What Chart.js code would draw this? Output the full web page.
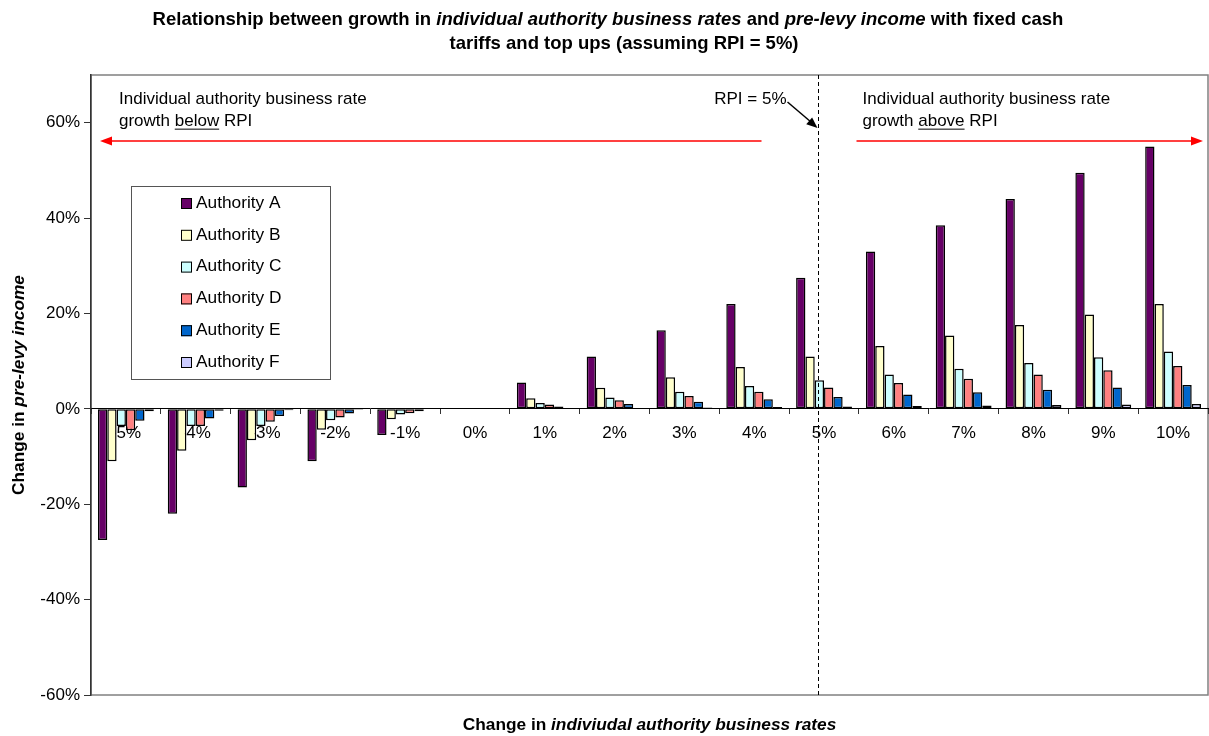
<!DOCTYPE html>
<html>
<head>
<meta charset="utf-8">
<title>Business rates growth and pre-levy income</title>
<script src="https://cdn.jsdelivr.net/npm/chart.js@4.4.1/dist/chart.umd.min.js"></script>
<style>
  html, body { margin: 0; padding: 0; background: #fff; }
  .chartContainer { position: relative; width: 1209px; height: 736px; }
</style>
</head>
<body>
<div class="chartContainer">
  <canvas id="chart"></canvas>
</div>
<script>
const FONT = "'Liberation Sans', Arial, sans-serif";

const categories = ['-5%', '-4%', '-3%', '-2%', '-1%', '0%', '1%', '2%', '3%', '4%', '5%', '6%', '7%', '8%', '9%', '10%'];

const authorityA = [-27.5, -22, -16.5, -11, -5.5, 0, 5.5, 11, 16.5, 22, 27.5, 33, 38.5, 44, 49.5, 55];
const authorityB = [-11, -8.8, -6.6, -4.4, -2.2, 0, 2.2, 4.4, 6.6, 8.8, 11, 13.2, 15.4, 17.6, 19.8, 22];
const authorityC = [-3.6, -3.6, -3.6, -2.4, -1.2, 0, 1.2, 2.4, 3.6, 4.8, 6, 7.2, 8.4, 9.6, 10.8, 12];
const authorityD = [-4.5, -3.6, -2.7, -1.8, -0.9, 0, 0.9, 1.8, 2.7, 3.6, 4.5, 5.4, 6.3, 7.2, 8.1, 9];
const authorityE = [-2.5, -2, -1.5, -1, -0.5, 0, 0.5, 1, 1.5, 2, 2.5, 3, 3.5, 4, 4.5, 5];
const authorityF = [-0.5, -0.4, -0.3, -0.2, -0.1, 0, 0.1, 0.2, 0.3, 0.4, 0.5, 0.6, 0.7, 0.8, 0.9, 1];

const seriesNames = ['Authority A', 'Authority B', 'Authority C', 'Authority D', 'Authority E', 'Authority F'];
const seriesColors = ['#660066', '#FFFFCC', '#CCFFFF', '#FF8080', '#0066CC', '#CCCCFF'];

const yTicks = [-60, -40, -20, 0, 20, 40, 60];
const rpiIndex = 9.92; // position of the RPI = 5% marker on the category axis

// draw a line of mixed normal / italic text
function drawRuns(ctx, runs, x, y, size, align) {
  let total = 0;
  const widths = runs.map(r => {
    ctx.font = (r.i ? 'italic ' : '') + (r.b ? 'bold ' : '') + size + 'px ' + FONT;
    const w = ctx.measureText(r.t).width;
    total += w;
    return w;
  });
  let cx = align === 'center' ? x - total / 2 : (align === 'right' ? x - total : x);
  ctx.textBaseline = 'middle';
  ctx.textAlign = 'left';
  runs.forEach((r, k) => {
    ctx.font = (r.i ? 'italic ' : '') + (r.b ? 'bold ' : '') + size + 'px ' + FONT;
    ctx.fillText(r.t, cx, y);
    if (r.u) {
      ctx.fillRect(cx, y + size * 0.45, widths[k], 1);
    }
    cx += widths[k];
  });
}

function arrowHead(ctx, x1, y1, x2, y2, len, half) {
  const a = Math.atan2(y2 - y1, x2 - x1);
  ctx.beginPath();
  ctx.moveTo(x2, y2);
  ctx.lineTo(x2 - len * Math.cos(a) + half * Math.sin(a), y2 - len * Math.sin(a) - half * Math.cos(a));
  ctx.lineTo(x2 - len * Math.cos(a) - half * Math.sin(a), y2 - len * Math.sin(a) + half * Math.cos(a));
  ctx.closePath();
  ctx.fill();
}

const plotFrame = {
  id: 'plotFrame',
  beforeDraw(chart) {
    const {ctx, chartArea} = chart;
    ctx.save();
    ctx.strokeStyle = '#808080';
    ctx.lineWidth = 1.5;
    ctx.strokeRect(chartArea.left, chartArea.top, chartArea.right - chartArea.left, chartArea.bottom - chartArea.top);
    ctx.restore();
  }
};

const overlay = {
  id: 'overlay',
  afterDraw(chart) {
    const {ctx, chartArea} = chart;
    const xs = chart.scales.x;
    const top = chartArea.top;
    const left = chartArea.left;
    const dashX = Math.round(xs.getPixelForValue(rpiIndex)) + 0.5;
    ctx.save();
    ctx.fillStyle = '#000';

    // titles
    drawRuns(ctx, [
      {t: 'Relationship between growth in ', b: true},
      {t: 'individual authority business rates', b: true, i: true},
      {t: ' and ', b: true},
      {t: 'pre-levy income', b: true, i: true},
      {t: ' with fixed cash', b: true}
    ], 608, 20, 18.5, 'center');
    drawRuns(ctx, [{t: 'tariffs and top ups (assuming RPI = 5%)', b: true}], 624, 44, 18.5, 'center');

    drawRuns(ctx, [
      {t: 'Change in ', b: true},
      {t: 'indiviudal authority business rates', b: true, i: true}
    ], (chartArea.left + chartArea.right) / 2, 725, 17.3, 'center');

    ctx.save();
    ctx.translate(19, (chartArea.top + chartArea.bottom) / 2);
    ctx.rotate(-Math.PI / 2);
    drawRuns(ctx, [
      {t: 'Change in ', b: true},
      {t: 'pre-levy income', b: true, i: true}
    ], 0, 0, 17.3, 'center');
    ctx.restore();

    // RPI marker
    ctx.strokeStyle = '#000';
    ctx.lineWidth = 1;
    ctx.setLineDash([4, 3]);
    ctx.beginPath();
    ctx.moveTo(dashX, top);
    ctx.lineTo(dashX, chartArea.bottom);
    ctx.stroke();
    ctx.setLineDash([]);

    drawRuns(ctx, [{t: 'RPI = 5%'}], dashX - 32, top + 24, 17, 'right');
    ctx.lineWidth = 1.5;
    ctx.beginPath();
    ctx.moveTo(dashX - 31, top + 27);
    ctx.lineTo(dashX - 4, top + 50);
    ctx.stroke();
    arrowHead(ctx, dashX - 31, top + 27, dashX - 1, top + 53, 11, 4.5);

    // range notes
    drawRuns(ctx, [{t: 'Individual authority business rate'}], left + 28, top + 24, 17, 'left');
    drawRuns(ctx, [{t: 'growth '}, {t: 'below', u: true}, {t: ' RPI'}], left + 28, top + 46, 17, 'left');
    drawRuns(ctx, [{t: 'Individual authority business rate'}], dashX + 44, top + 24, 17, 'left');
    drawRuns(ctx, [{t: 'growth '}, {t: 'above', u: true}, {t: ' RPI'}], dashX + 44, top + 46, 17, 'left');

    ctx.strokeStyle = '#FF0000';
    ctx.fillStyle = '#FF0000';
    ctx.lineWidth = 1.5;
    const ay = top + 66;
    ctx.beginPath();
    ctx.moveTo(dashX - 57, ay);
    ctx.lineTo(left + 14, ay);
    ctx.stroke();
    arrowHead(ctx, dashX - 57, ay, left + 9, ay, 12, 4.5);
    ctx.beginPath();
    ctx.moveTo(dashX + 38, ay);
    ctx.lineTo(chartArea.right - 10, ay);
    ctx.stroke();
    arrowHead(ctx, dashX + 38, ay, chartArea.right - 5, ay, 12, 4.5);

    // legend box
    const lx = left + 40, ly = top + 111, lw = 199, lh = 193;
    ctx.fillStyle = '#fff';
    ctx.fillRect(lx, ly, lw, lh);
    ctx.strokeStyle = '#555';
    ctx.lineWidth = 1;
    ctx.strokeRect(lx + 0.5, ly + 0.5, lw, lh);
    chart.data.datasets.forEach((ds, k) => {
      const cy = ly + 17 + k * 31.8;
      ctx.fillStyle = ds.backgroundColor;
      ctx.fillRect(lx + 50, cy - 5, 11, 11);
      ctx.strokeStyle = '#000';
      ctx.strokeRect(lx + 50.5, cy - 4.5, 10, 10);
      ctx.fillStyle = '#000';
      drawRuns(ctx, [{t: ds.label}], lx + 65, cy, 17.3, 'left');
    });
    ctx.restore();
  }
};

const seriesValues = [authorityA, authorityB, authorityC, authorityD, authorityE, authorityF];

const data = {
  labels: categories,
  datasets: seriesValues.map((values, k) => ({
    label: seriesNames[k],
    data: values,
    backgroundColor: seriesColors[k],
    borderColor: '#000',
    borderWidth: 1.5,
    borderSkipped: false,
    barPercentage: 1,
    categoryPercentage: 0.8
  }))
};

const options = {
  responsive: true,
  maintainAspectRatio: false,
  animation: false,
  layout: {padding: {top: 75, bottom: 41, left: 0, right: 1}},
  plugins: {
    legend: {display: false},
    title: {display: false},
    tooltip: {enabled: false}
  },
  scales: {
    x: {
      type: 'category',
      position: {y: 0},
      offset: true,
      grid: {offset: true, drawOnChartArea: false, drawTicks: true, tickLength: 5, color: '#333'},
      border: {display: true, color: '#000', width: 1},
      ticks: {color: '#000', font: {family: FONT, size: 17}, padding: 9, maxRotation: 0, autoSkip: false}
    },
    y: {
      min: -60,
      max: 70,
      afterBuildTicks: scale => {
        scale.ticks = yTicks.map(v => ({value: v}));
      },
      afterFit: scale => {
        scale.width = 91;
      },
      grid: {drawOnChartArea: false, drawTicks: true, tickLength: 7, color: '#333'},
      border: {display: true, color: '#333', width: 1.5},
      ticks: {
        color: '#000',
        font: {family: FONT, size: 17},
        padding: 4,
        callback: v => v + '%'
      }
    }
  }
};

new Chart(document.getElementById('chart').getContext('2d'), {
  type: 'bar',
  data: data,
  options: options,
  plugins: [plotFrame, overlay]
});
</script>
</body>
</html>
